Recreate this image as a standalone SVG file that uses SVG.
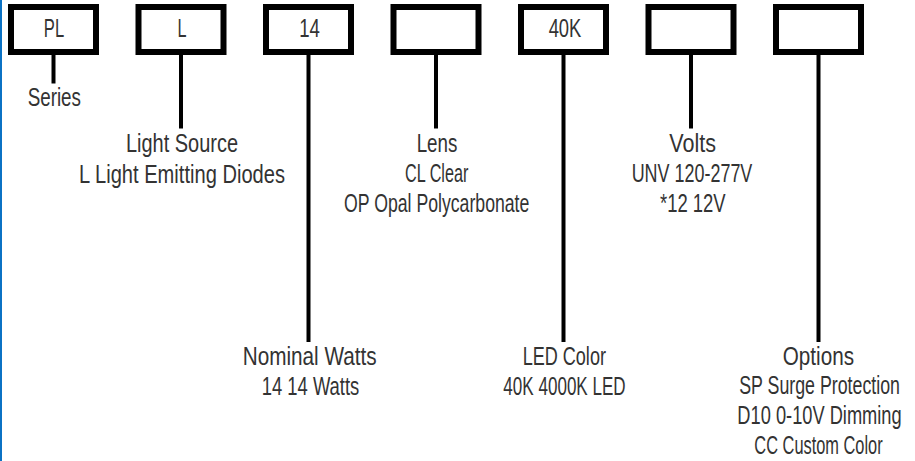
<svg xmlns="http://www.w3.org/2000/svg" width="915" height="461" viewBox="0 0 915 461">
<style>
.box{fill:#fff;stroke:#000;stroke-width:6}
.t{font-family:"Liberation Sans",Arial,sans-serif;font-size:25px;fill:#333;text-anchor:middle}
.c{stroke:#000;stroke-width:4;fill:none}
</style>
<rect x="0" y="0" width="2" height="461" fill="#0b72c4"/>
<g id="box-series"><rect class="box" x="11" y="7" width="85" height="45"/><text class="t" x="54" y="37" textLength="20.3" lengthAdjust="spacingAndGlyphs">PL</text></g>
<g id="box-source"><rect class="box" x="138.5" y="7" width="85" height="45"/><text class="t" x="182" y="37" textLength="9" lengthAdjust="spacingAndGlyphs">L</text></g>
<g id="box-watts"><rect class="box" x="266" y="7" width="85" height="45"/><text class="t" x="309.5" y="37" textLength="20.7" lengthAdjust="spacingAndGlyphs">14</text></g>
<g id="box-lens"><rect class="box" x="393.5" y="7" width="85" height="45"/></g>
<g id="box-color"><rect class="box" x="521" y="7" width="85" height="45"/><text class="t" x="565" y="37" textLength="32.7" lengthAdjust="spacingAndGlyphs">40K</text></g>
<g id="box-volts"><rect class="box" x="648.5" y="7" width="85" height="45"/></g>
<g id="box-options"><rect class="box" x="776" y="7" width="85" height="45"/></g>
<g id="connectors">
<line class="c" x1="53.5" y1="55" x2="53.5" y2="83.5"/>
<line class="c" x1="181" y1="55" x2="181" y2="128.5"/>
<line class="c" x1="308.5" y1="55" x2="308.5" y2="342"/>
<line class="c" x1="436" y1="55" x2="436" y2="128.5"/>
<line class="c" x1="563.5" y1="55" x2="563.5" y2="342"/>
<line class="c" x1="691" y1="55" x2="691" y2="128.5"/>
<line class="c" x1="818.5" y1="55" x2="818.5" y2="342"/>
</g>
<g id="label-series"><text class="t" x="54.3" y="106" textLength="53.3" lengthAdjust="spacingAndGlyphs">Series</text></g>
<g id="label-source">
<text class="t" x="182" y="152" textLength="112" lengthAdjust="spacingAndGlyphs">Light Source</text>
<text class="t" x="182" y="182.5" textLength="206" lengthAdjust="spacingAndGlyphs">L Light Emitting Diodes</text>
</g>
<g id="label-watts">
<text class="t" x="309.7" y="365" textLength="134" lengthAdjust="spacingAndGlyphs">Nominal Watts</text>
<text class="t" x="310.5" y="395" textLength="97.6" lengthAdjust="spacingAndGlyphs">14 14 Watts</text>
</g>
<g id="label-lens">
<text class="t" x="437" y="152" textLength="40.7" lengthAdjust="spacingAndGlyphs">Lens</text>
<text class="t" x="436.7" y="182" textLength="63.3" lengthAdjust="spacingAndGlyphs">CL Clear</text>
<text class="t" x="436.7" y="212" textLength="185.3" lengthAdjust="spacingAndGlyphs">OP Opal Polycarbonate</text>
</g>
<g id="label-color">
<text class="t" x="564.3" y="365" textLength="83.3" lengthAdjust="spacingAndGlyphs">LED Color</text>
<text class="t" x="564.5" y="395" textLength="122.3" lengthAdjust="spacingAndGlyphs">40K 4000K LED</text>
</g>
<g id="label-volts">
<text class="t" x="692.7" y="152" textLength="46.7" lengthAdjust="spacingAndGlyphs">Volts</text>
<text class="t" x="692" y="182" textLength="120.7" lengthAdjust="spacingAndGlyphs">UNV 120-277V</text>
<text class="t" x="692.8" y="212" textLength="65.7" lengthAdjust="spacingAndGlyphs">*12 12V</text>
</g>
<g id="label-options">
<text class="t" x="818.4" y="364.5" textLength="71.3" lengthAdjust="spacingAndGlyphs">Options</text>
<text class="t" transform="translate(819.6,394.3) scale(0.72,1)" x="0" y="0" textLength="223.2" lengthAdjust="spacingAndGlyphs">SP Surge Protection</text>
<text class="t" transform="translate(819.5,424) scale(0.72,1)" x="0" y="0" textLength="228.2" lengthAdjust="spacingAndGlyphs">D10 0-10V Dimming</text>
<text class="t" transform="translate(818.5,453.5) scale(0.72,1)" x="0" y="0" textLength="178.2" lengthAdjust="spacingAndGlyphs">CC Custom Color</text>
</g>
</svg>
